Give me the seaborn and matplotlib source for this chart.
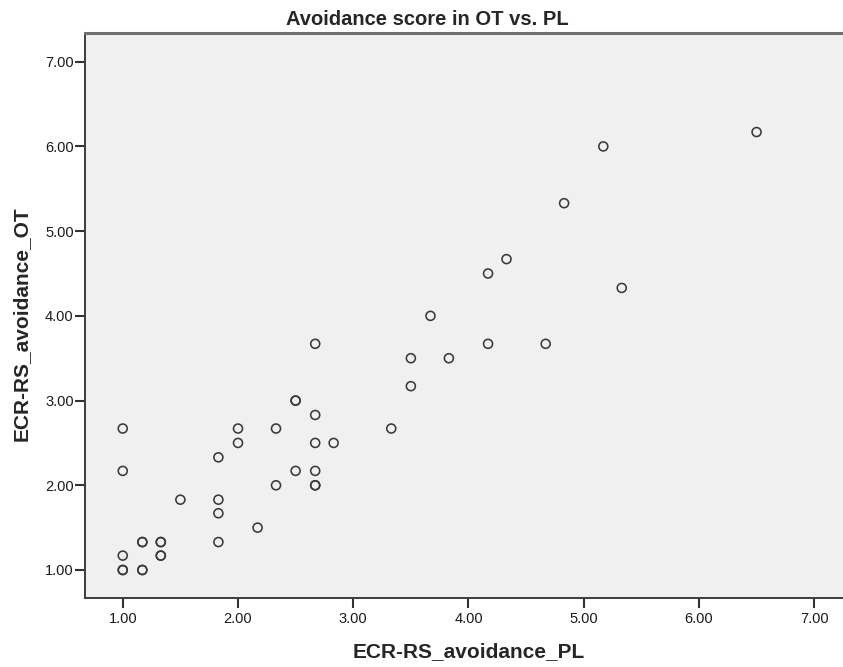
import matplotlib
matplotlib.use("Agg")
import matplotlib.pyplot as plt
import seaborn as sns
import pandas as pd

# Data (values on a 1/6 grid)
pl_scores = [1.00, 1.00, 1.00, 1.00, 1.00, 1.17, 1.17, 1.17, 1.17, 1.33, 1.33,
             1.33, 1.33, 1.50, 1.83, 1.83, 1.83, 1.83, 2.00, 2.00, 2.17, 2.33,
             2.33, 2.50, 2.50, 2.50, 2.67, 2.67, 2.67, 2.67, 2.67, 2.67, 2.83,
             3.33, 3.50, 3.50, 3.67, 3.83, 4.17, 4.17, 4.33, 4.67, 4.83, 5.17,
             5.33, 6.50]
ot_scores = [2.67, 2.17, 1.17, 1.00, 1.00, 1.00, 1.00, 1.33, 1.33, 1.33, 1.33,
             1.17, 1.17, 1.83, 2.33, 1.83, 1.67, 1.33, 2.67, 2.50, 1.50, 2.67,
             2.00, 3.00, 3.00, 2.17, 3.67, 2.83, 2.50, 2.17, 2.00, 2.00, 2.50,
             2.67, 3.50, 3.17, 4.00, 3.50, 4.50, 3.67, 4.67, 3.67, 5.33, 6.00,
             4.33, 6.17]
x_ticks = [1, 2, 3, 4, 5, 6, 7]
y_ticks = [1, 2, 3, 4, 5, 6, 7]
title = "Avoidance score in OT vs. PL"
x_label = "ECR-RS_avoidance_PL"
y_label = "ECR-RS_avoidance_OT"

df = pd.DataFrame({x_label: pl_scores, y_label: ot_scores})

sns.set_style("white")
plt.rcParams['font.family'] = ['Liberation Sans', 'DejaVu Sans']

fig = plt.figure(figsize=(8.43, 6.67), dpi=100)
ax = fig.add_axes([0.1005, 0.1039, 0.8995, 0.8461])
ax.set_facecolor('#f0f0f0')

sns.scatterplot(data=df, x=x_label, y=y_label, ax=ax, marker='o', s=42,
                facecolors='none', edgecolor='#3a3a3a', linewidth=1.15)

ax.set_xlim(0.67, 7.25)
ax.set_ylim(0.673, 7.335)
ax.set_xticks(x_ticks)
ax.set_yticks(y_ticks)
ax.set_xticklabels([f"{v:.2f}" for v in x_ticks], fontsize=10.5)
ax.set_yticklabels([f"{v:.2f}" for v in y_ticks], fontsize=10.5)
ax.tick_params(axis='both', which='major', bottom=True, left=True, top=False, right=False,
               direction='out', length=7, width=1.5, color='#333333',
               labelcolor='#1a1a1a')
ax.tick_params(axis='x', pad=3)
ax.tick_params(axis='y', pad=1)

for side in ['left', 'bottom']:
    ax.spines[side].set_color('#3c3c3c')
    ax.spines[side].set_linewidth(1.4)
ax.spines['top'].set_color('#707070')
ax.spines['top'].set_linewidth(2.2)
ax.spines['right'].set_visible(False)

ax.set_xlabel(x_label, fontsize=15, fontweight='bold', va='baseline')
ax.xaxis.set_label_coords(0.506, -0.1045)
ax.set_ylabel(y_label, fontsize=15, fontweight='bold', va='center')
ax.yaxis.set_label_coords(-0.0844, 0.485)
fig.text(0.507, 1 - 25 / 667, title, ha='center', va='baseline', fontsize=14.5,
         fontweight='bold')

fig.savefig("out.png", dpi=100)
